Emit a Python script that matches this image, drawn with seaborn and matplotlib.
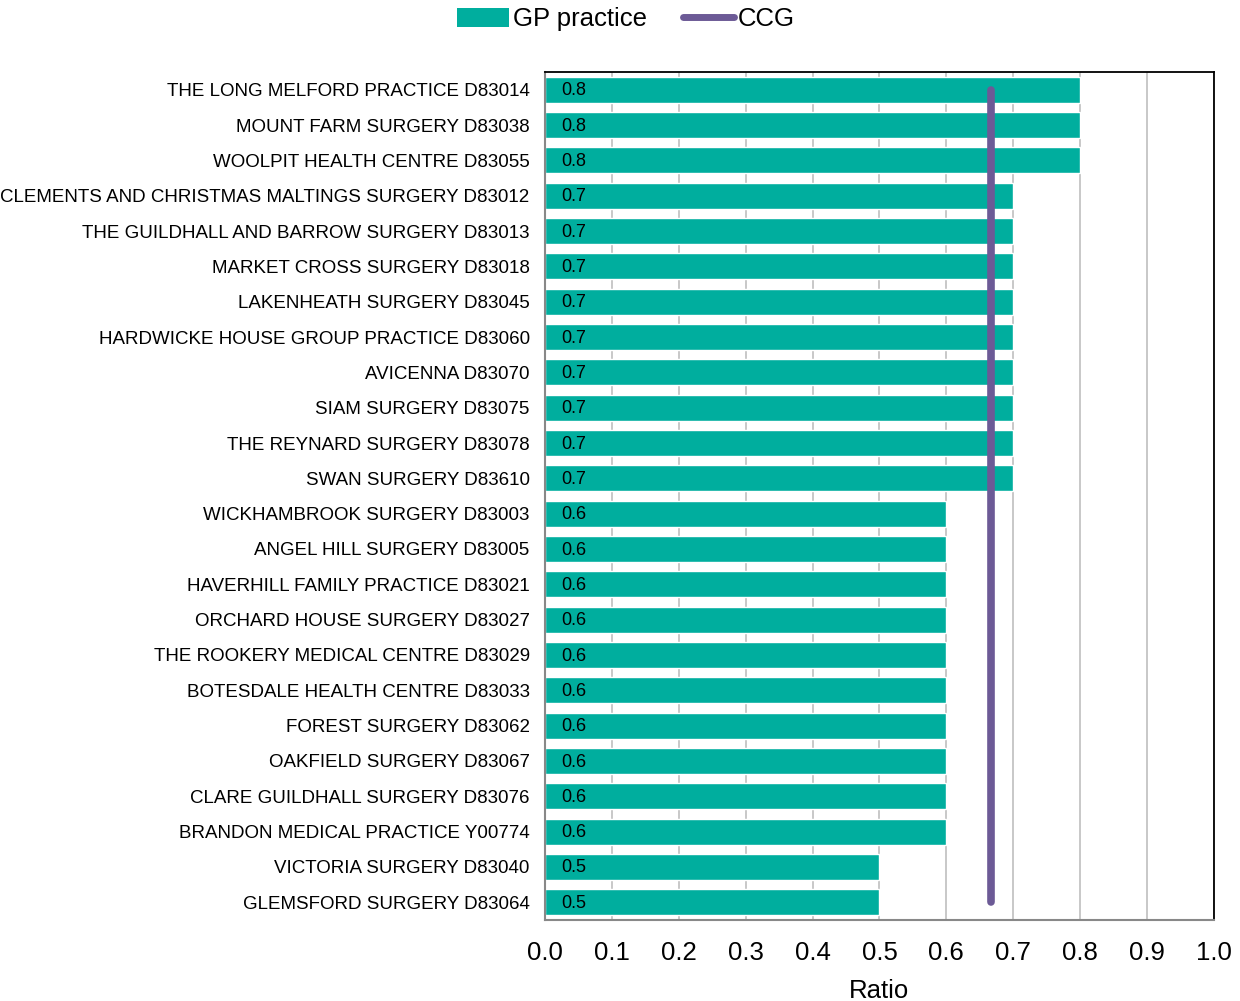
import matplotlib.pyplot as plt
import numpy as np
import pandas as pd
import seaborn as sns
from matplotlib.lines import Line2D
from matplotlib.patches import Patch

practices = [
    "THE LONG MELFORD PRACTICE D83014",
    "MOUNT FARM SURGERY D83038",
    "WOOLPIT HEALTH CENTRE D83055",
    "CLEMENTS AND CHRISTMAS MALTINGS SURGERY D83012",
    "THE GUILDHALL AND BARROW SURGERY D83013",
    "MARKET CROSS SURGERY D83018",
    "LAKENHEATH SURGERY D83045",
    "HARDWICKE HOUSE GROUP PRACTICE D83060",
    "AVICENNA D83070",
    "SIAM SURGERY D83075",
    "THE REYNARD SURGERY D83078",
    "SWAN SURGERY D83610",
    "WICKHAMBROOK SURGERY D83003",
    "ANGEL HILL SURGERY D83005",
    "HAVERHILL FAMILY PRACTICE D83021",
    "ORCHARD HOUSE SURGERY D83027",
    "THE ROOKERY MEDICAL CENTRE D83029",
    "BOTESDALE HEALTH CENTRE D83033",
    "FOREST SURGERY D83062",
    "OAKFIELD SURGERY D83067",
    "CLARE GUILDHALL SURGERY D83076",
    "BRANDON MEDICAL PRACTICE Y00774",
    "VICTORIA SURGERY D83040",
    "GLEMSFORD SURGERY D83064",
]
ratios = [0.8, 0.8, 0.8, 0.7, 0.7, 0.7, 0.7, 0.7, 0.7, 0.7, 0.7, 0.7,
          0.6, 0.6, 0.6, 0.6, 0.6, 0.6, 0.6, 0.6, 0.6, 0.6, 0.5, 0.5]
ccg_value = 0.667

TEAL = "#00AE9E"
PURPLE = "#6C5A96"

sns.set_style("white")
plt.rcParams["font.family"] = ["Liberation Sans", "DejaVu Sans"]
plt.rcParams["text.color"] = "black"
plt.rcParams["xtick.color"] = "black"
plt.rcParams["ytick.color"] = "black"
plt.rcParams["axes.labelcolor"] = "black"

df = pd.DataFrame({"practice": practices, "ratio": ratios})

fig = plt.figure(figsize=(12.4, 10.01), dpi=100)
ax = fig.add_axes([0.4395, 0.081, 0.5395, 0.847])

sns.barplot(data=df, y="practice", x="ratio", orient="h", color=TEAL,
            saturation=1, width=0.74, ax=ax, zorder=2)

n = len(practices)
for i, v in enumerate(ratios):
    ax.text(0.024, i + 0.03, f"{v:.1f}", va="center", ha="left", fontsize=13,
            color="black", zorder=4)

ax.plot([ccg_value, ccg_value], [0, n - 1], color=PURPLE, lw=5.5,
        solid_capstyle="round", zorder=3)

ax.set_xlim(0, 1.0)
ax.set_ylim(n - 0.5, -0.5)
ax.set_xticks(np.arange(0, 1.01, 0.1))
ax.set_xticklabels([f"{t:.1f}" for t in np.arange(0, 1.01, 0.1)], fontsize=18.5)
ax.xaxis.grid(True, color="#BFBFBF", lw=1.2, zorder=0)
ax.set_axisbelow(True)
ax.set_xlabel("Ratio", fontsize=18.5, labelpad=10)
ax.set_ylabel("")
ax.tick_params(axis="y", which="major", length=0, labelsize=13.5, pad=11,
               labelcolor="black")
ax.set_yticks(np.arange(-0.5, n, 1.0), minor=True)
ax.tick_params(axis="y", which="minor", length=5, color="#888888", direction="out")
ax.tick_params(axis="x", length=5, color="#888888", direction="out", pad=10,
               labelcolor="black")

for side in ["left", "bottom"]:
    ax.spines[side].set_color("#888888")
    ax.spines[side].set_linewidth(1.5)
for side in ["top", "right"]:
    ax.spines[side].set_color("black")
    ax.spines[side].set_linewidth(1.3)

handles = [Patch(facecolor=TEAL, edgecolor="none", label="GP practice"),
           Line2D([0], [0], color=PURPLE, lw=5, solid_capstyle="round", label="CCG")]
fig.legend(handles=handles, loc="upper center", bbox_to_anchor=(0.505, 1.016),
           ncol=2, frameon=False, fontsize=18.5, handlelength=2.0,
           handleheight=0.75, handletextpad=0.15, columnspacing=1.4)

fig.savefig("out.png", dpi=100)
